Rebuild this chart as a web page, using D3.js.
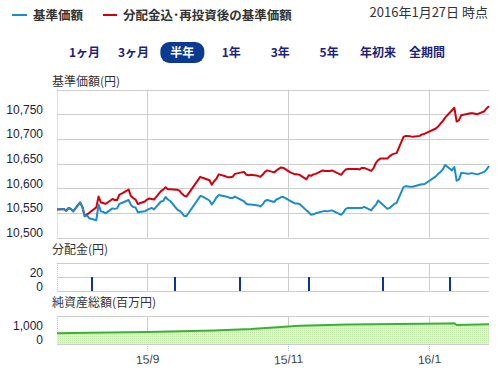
<!DOCTYPE html>
<html>
<head>
<meta charset="utf-8">
<script src="https://cdn.jsdelivr.net/npm/d3@7"></script>
<style>
  body { margin: 0; background: #fff; }
  svg { display: block; }
</style>
</head>
<body>
<svg id="chart"></svg>
<script>
// daily values
const dates = [
  "2015-07-24","2015-07-27","2015-07-28","2015-07-29","2015-07-30","2015-07-31",
  "2015-08-03","2015-08-04","2015-08-05","2015-08-06","2015-08-07",
  "2015-08-10","2015-08-11","2015-08-12","2015-08-13","2015-08-14",
  "2015-08-17","2015-08-18","2015-08-19","2015-08-20","2015-08-21",
  "2015-08-24","2015-08-25","2015-08-26","2015-08-27","2015-08-28",
  "2015-08-31","2015-09-01","2015-09-02","2015-09-03","2015-09-04",
  "2015-09-07","2015-09-08","2015-09-09","2015-09-10","2015-09-11",
  "2015-09-14","2015-09-15","2015-09-16","2015-09-17","2015-09-18",
  "2015-09-24","2015-09-25",
  "2015-09-28","2015-09-29","2015-09-30","2015-10-01","2015-10-02",
  "2015-10-05","2015-10-06","2015-10-07","2015-10-08","2015-10-09",
  "2015-10-13","2015-10-14","2015-10-15","2015-10-16",
  "2015-10-19","2015-10-20","2015-10-21","2015-10-22","2015-10-23",
  "2015-10-26","2015-10-27","2015-10-28","2015-10-29","2015-10-30",
  "2015-11-02","2015-11-04","2015-11-05","2015-11-06",
  "2015-11-09","2015-11-10","2015-11-11","2015-11-12","2015-11-13",
  "2015-11-16","2015-11-17","2015-11-18","2015-11-19","2015-11-20",
  "2015-11-24","2015-11-25","2015-11-26","2015-11-27",
  "2015-11-30","2015-12-01","2015-12-02","2015-12-03","2015-12-04",
  "2015-12-07","2015-12-08","2015-12-09","2015-12-10","2015-12-11",
  "2015-12-14","2015-12-15","2015-12-16","2015-12-17","2015-12-18",
  "2015-12-21","2015-12-22","2015-12-24","2015-12-25",
  "2015-12-28","2015-12-29","2015-12-30",
  "2016-01-04","2016-01-05","2016-01-06","2016-01-07","2016-01-08",
  "2016-01-11","2016-01-12","2016-01-13","2016-01-14","2016-01-15",
  "2016-01-18","2016-01-19","2016-01-20","2016-01-21","2016-01-22",
  "2016-01-25","2016-01-26","2016-01-27"
];
const basePrice = [
  10557,10558,10554,10560,10558,10553,
  10571,10562,10543,10545,10539,
  10535,10567,10553,10552,10549,
  10559,10558,10559,10568,10570,
  10576,10566,10562,10561,10551,
  10553,10556,10558,10560,10557,
  10573,10574,10582,10577,10574,
  10557,10554,10550,10544,10543,
  10584,10583,
  10575,10567,10573,10581,10586,
  10583,10582,10580,10580,10583,
  10573,10568,10567,10567,
  10565,10563,10567,10574,10576,
  10572,10577,10579,10582,10582,
  10574,10569,10569,10568,
  10555,10551,10546,10547,10549,
  10553,10554,10553,10554,10555,
  10546,10551,10558,10560,
  10560,10560,10560,10560,10562,
  10555,10561,10566,10575,10571,
  10558,10560,10564,10568,10570,
  10602,10604,10603,10603,
  10607,10608,10608,
  10624,10629,10633,10638,10647,
  10636,10643,10615,10618,10631,
  10629,10630,10630,10629,10628,
  10633,10638,10645
];
const reinvested = [
  10557,10558,10554,10560,10558,10553,
  10571,10562,10543,10547,10550,
  10561,10583,10571,10570,10568,
  10578,10576,10576,10587,10589,
  10597,10584,10580,10577,10568,
  10573,10577,10579,10578,10577,
  10594,10597,10602,10598,10598,
  10597,10595,10589,10585,10583,
  10623,10621,
  10616,10607,10614,10619,10628,
  10624,10622,10622,10623,10629,
  10633,10627,10626,10627,
  10625,10623,10627,10633,10636,
  10632,10636,10639,10642,10641,
  10632,10628,10628,10627,
  10618,10626,10625,10628,10629,
  10636,10635,10635,10635,10636,
  10627,10633,10638,10639,
  10639,10639,10638,10641,10641,
  10635,10640,10651,10657,10660,
  10660,10665,10668,10670,10671,
  10704,10706,10705,10704,
  10706,10709,10710,
  10721,10725,10731,10736,10743,
  10758,10763,10735,10738,10748,
  10751,10752,10752,10751,10750,
  10756,10762,10766
];

const distDates = ["2015-08-08","2015-09-13","2015-10-11","2015-11-10","2015-12-12","2016-01-10"];
const distValues = [20, 20, 20, 20, 20, 20];

const assetDates = ["2015-07-24","2015-08-07","2015-09-01","2015-09-30","2015-10-16","2015-11-06",
  "2015-11-27","2015-12-29","2016-01-08","2016-01-12","2016-01-13","2016-01-27"];
const assetValues = [760, 800, 850, 960, 1070, 1300, 1400, 1450, 1470, 1480, 1360, 1410];

const priceTicks = [10500, 10550, 10600, 10650, 10700, 10750];
const priceGrid = [10500, 10550, 10600, 10650, 10700, 10750, 10800];
const distTicks = [0, 20];
const assetTicks = [0, 1000];
const monthTicks = ["2015-09-01", "2015-11-01", "2016-01-01"];
const monthLabels = ["15/9", "15/11", "16/1"];
const periods = ["1ヶ月", "3ヶ月", "半年", "1年", "3年", "5年", "年初来", "全期間"];
const legendNames = ["基準価額", "分配金込･再投資後の基準価額"];

const W = 499, H = 371;
const parse = d3.timeParse("%Y-%m-%d");
const blue = "#1b8dca", red = "#d2000f", navy = "#0b3a92", grid = "#cdcdcd";
const jp = "'Noto Sans CJK JP', sans-serif";
const num = "'Liberation Sans', Arial, sans-serif";

const svg = d3.select("#chart").attr("width", W).attr("height", H);

const x = d3.scaleTime()
  .domain([parse("2015-07-24"), parse("2016-01-27")])
  .range([57, 489]);
const yPrice = d3.scaleLinear().domain([10500, 10800]).range([237.5, 89.5]);
const yDist = d3.scaleLinear().domain([0, 40]).range([291, 263]);
const yAsset = d3.scaleLinear().domain([0, 2000]).range([344, 316]);

// legend + date
svg.append("line").attr("x1", 12).attr("x2", 27).attr("y1", 15).attr("y2", 15)
  .attr("stroke", blue).attr("stroke-width", 2);
svg.append("text").attr("x", 33).attr("y", 19.5).text(legendNames[0])
  .style("font", "bold 12.5px " + jp).attr("fill", "#333");
svg.append("line").attr("x1", 103).attr("x2", 117).attr("y1", 15).attr("y2", 15)
  .attr("stroke", red).attr("stroke-width", 2);
svg.append("text").attr("x", 123).attr("y", 19.5).text(legendNames[1])
  .style("font", "bold 12.5px " + jp).attr("fill", "#333");
svg.append("text").attr("x", 488).attr("y", 16.5).attr("text-anchor", "end")
  .text("2016年1月27日 時点").style("font", "13px " + jp).attr("fill", "#333");

// period buttons
const btnX = d3.scalePoint().domain(periods).range([84.5, 427]);
svg.append("rect").attr("x", btnX("半年") - 22).attr("y", 42).attr("width", 44).attr("height", 21)
  .attr("rx", 9).attr("fill", navy);
svg.selectAll(".btn").data(periods).join("text")
  .attr("x", d => btnX(d)).attr("y", 57).attr("text-anchor", "middle")
  .text(d => d)
  .style("font", "bold 12px " + jp)
  .attr("fill", d => d === "半年" ? "#fff" : "#1d1f7c");

// panel frames and grids
function panel(top, bottom, hLines, yScale) {
  const g = svg.append("g");
  g.selectAll(".h").data(hLines).join("line")
    .attr("x1", 57).attr("x2", 489)
    .attr("y1", d => Math.round(yScale(d)) + 0.5).attr("y2", d => Math.round(yScale(d)) + 0.5)
    .attr("stroke", grid);
  g.selectAll(".v").data(monthTicks).join("line")
    .attr("x1", d => Math.round(x(parse(d))) + 0.5).attr("x2", d => Math.round(x(parse(d))) + 0.5)
    .attr("y1", top).attr("y2", bottom)
    .attr("stroke", grid);
  g.append("line").attr("x1", 57.5).attr("x2", 57.5).attr("y1", top).attr("y2", bottom)
    .attr("stroke", "#b4c2dc").attr("stroke-dasharray", "1,1");
}
panel(89.5, 237.5, priceGrid, yPrice);
panel(263, 291, [0, 20, 40], yDist);
panel(316, 344, [0, 2000], yAsset);

// titles
const titles = [["基準価額(円)", 86], ["分配金(円)", 254], ["純資産総額(百万円)", 307]];
svg.selectAll(".title").data(titles).join("text")
  .attr("x", 52).attr("y", d => d[1]).text(d => d[0])
  .style("font", "12px " + jp).attr("fill", "#333");

// y axes
function leftAxis(scale, ticks) {
  const g = svg.append("g").attr("transform", "translate(43,0)")
    .call(d3.axisLeft(scale).tickValues(ticks).tickFormat(d3.format(",")).tickSize(0).tickPadding(0));
  g.select(".domain").remove();
  g.selectAll("text").attr("dy", -1).style("font", "12px " + num).attr("fill", "#1c1c40");
}
leftAxis(yPrice, priceTicks);
leftAxis(yDist, distTicks);
leftAxis(yAsset, assetTicks);

// price lines
const priceRows = dates.map((d, i) => ({ date: parse(d), base: basePrice[i], re: reinvested[i] }));
const line = key => d3.line().x(d => x(d.date)).y(d => yPrice(d[key]));
svg.append("path").datum(priceRows).attr("d", line("re"))
  .attr("fill", "none").attr("stroke", red).attr("stroke-width", 2).attr("stroke-linejoin", "round");
svg.append("path").datum(priceRows).attr("d", line("base"))
  .attr("fill", "none").attr("stroke", blue).attr("stroke-width", 2).attr("stroke-linejoin", "round");

// distributions
svg.selectAll(".dist").data(distDates).join("rect")
  .attr("x", d => Math.round(x(parse(d))) - 1).attr("width", 2)
  .attr("y", (d, i) => yDist(distValues[i]))
  .attr("height", (d, i) => yDist(0) - yDist(distValues[i]))
  .attr("fill", "#0a3796");

// net assets
const pat = svg.append("defs").append("pattern").attr("id", "dots")
  .attr("width", 2).attr("height", 2).attr("patternUnits", "userSpaceOnUse");
pat.append("rect").attr("width", 2).attr("height", 2).attr("fill", "#dff4d0");
pat.append("rect").attr("width", 1).attr("height", 1).attr("fill", "#bfe6a6");
const assetRows = assetDates.map((d, i) => ({ date: parse(d), v: assetValues[i] }));
svg.append("path").datum(assetRows)
  .attr("d", d3.area().x(d => x(d.date)).y0(yAsset(0)).y1(d => yAsset(d.v)))
  .attr("fill", "url(#dots)");
svg.append("path").datum(assetRows)
  .attr("d", d3.line().x(d => x(d.date)).y(d => yAsset(d.v)))
  .attr("fill", "none").attr("stroke", "#3fae37").attr("stroke-width", 2);

// x axis
const xa = svg.append("g").attr("transform", "translate(0,344)")
  .call(d3.axisBottom(x).tickValues(monthTicks.map(parse))
    .tickFormat((d, i) => monthLabels[i]).tickSize(8).tickPadding(3));
xa.select(".domain").remove();
xa.selectAll("line").attr("stroke", "#b4c2dc").attr("stroke-dasharray", "1,1");
xa.selectAll("text").style("font", "12px " + num).attr("fill", "#444")
  .attr("transform", "rotate(-4,0,14)");
</script>
</body>
</html>
